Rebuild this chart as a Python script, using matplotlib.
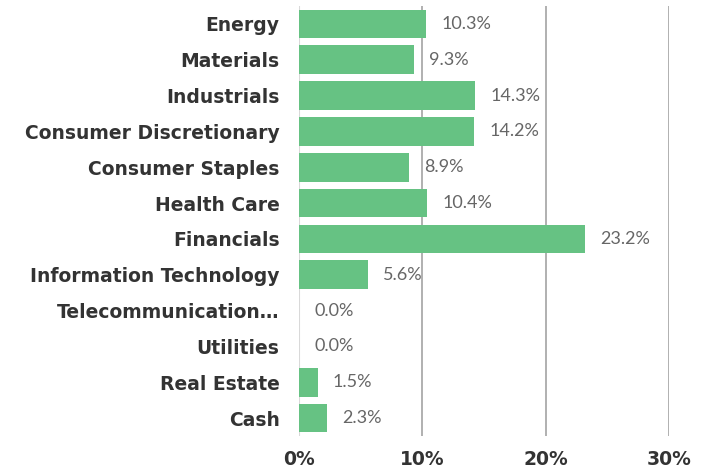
import matplotlib.pyplot as plt

# sector weights (%)
sectors = ["Energy", "Materials", "Industrials", "Consumer Discretionary",
           "Consumer Staples", "Health Care", "Financials",
           "Information Technology", "Telecommunication\u2026", "Utilities",
           "Real Estate", "Cash"]
weights = [10.3, 9.3, 14.3, 14.2, 8.9, 10.4, 23.2, 5.6, 0.0, 0.0, 1.5, 2.3]
xticks = [0, 10, 20, 30]

fig = plt.figure(figsize=(7.05, 4.69), dpi=100)
ax = fig.add_axes([299 / 705, 1 - 436 / 469, (669 - 299) / 705, 430 / 469])

pos = list(range(len(sectors)))
ax.barh(pos, weights, height=0.8, color="#66c283", zorder=3)

for p, w in zip(pos, weights):
    ax.annotate(f"{w:.1f}%", (w, p), xytext=(11, 0), textcoords="offset points",
                va="center", ha="left", fontsize=13, color="#666666",
                family="Lato", annotation_clip=False)

ax.set_ylim(len(sectors) - 0.5, -0.5)
ax.set_xlim(0, 30)
ax.set_yticks(pos)
ax.set_yticklabels(sectors, fontsize=13.5, fontweight="bold", color="#333333")
ax.set_xticks(xticks)
ax.set_xticklabels([f"{t}%" for t in xticks], fontsize=13.5, fontweight="bold", color="#333333")
ax.tick_params(length=0)
ax.tick_params(axis="x", pad=10)
ax.tick_params(axis="y", pad=14)

for t in xticks[1:]:
    ax.axvline(t, color="#aaaaaa", lw=1.3, zorder=1)
ax.axvline(0, color="#d9d9d9", lw=1.5, zorder=1)

for s in ax.spines.values():
    s.set_visible(False)

fig.savefig("out.png", dpi=100)
